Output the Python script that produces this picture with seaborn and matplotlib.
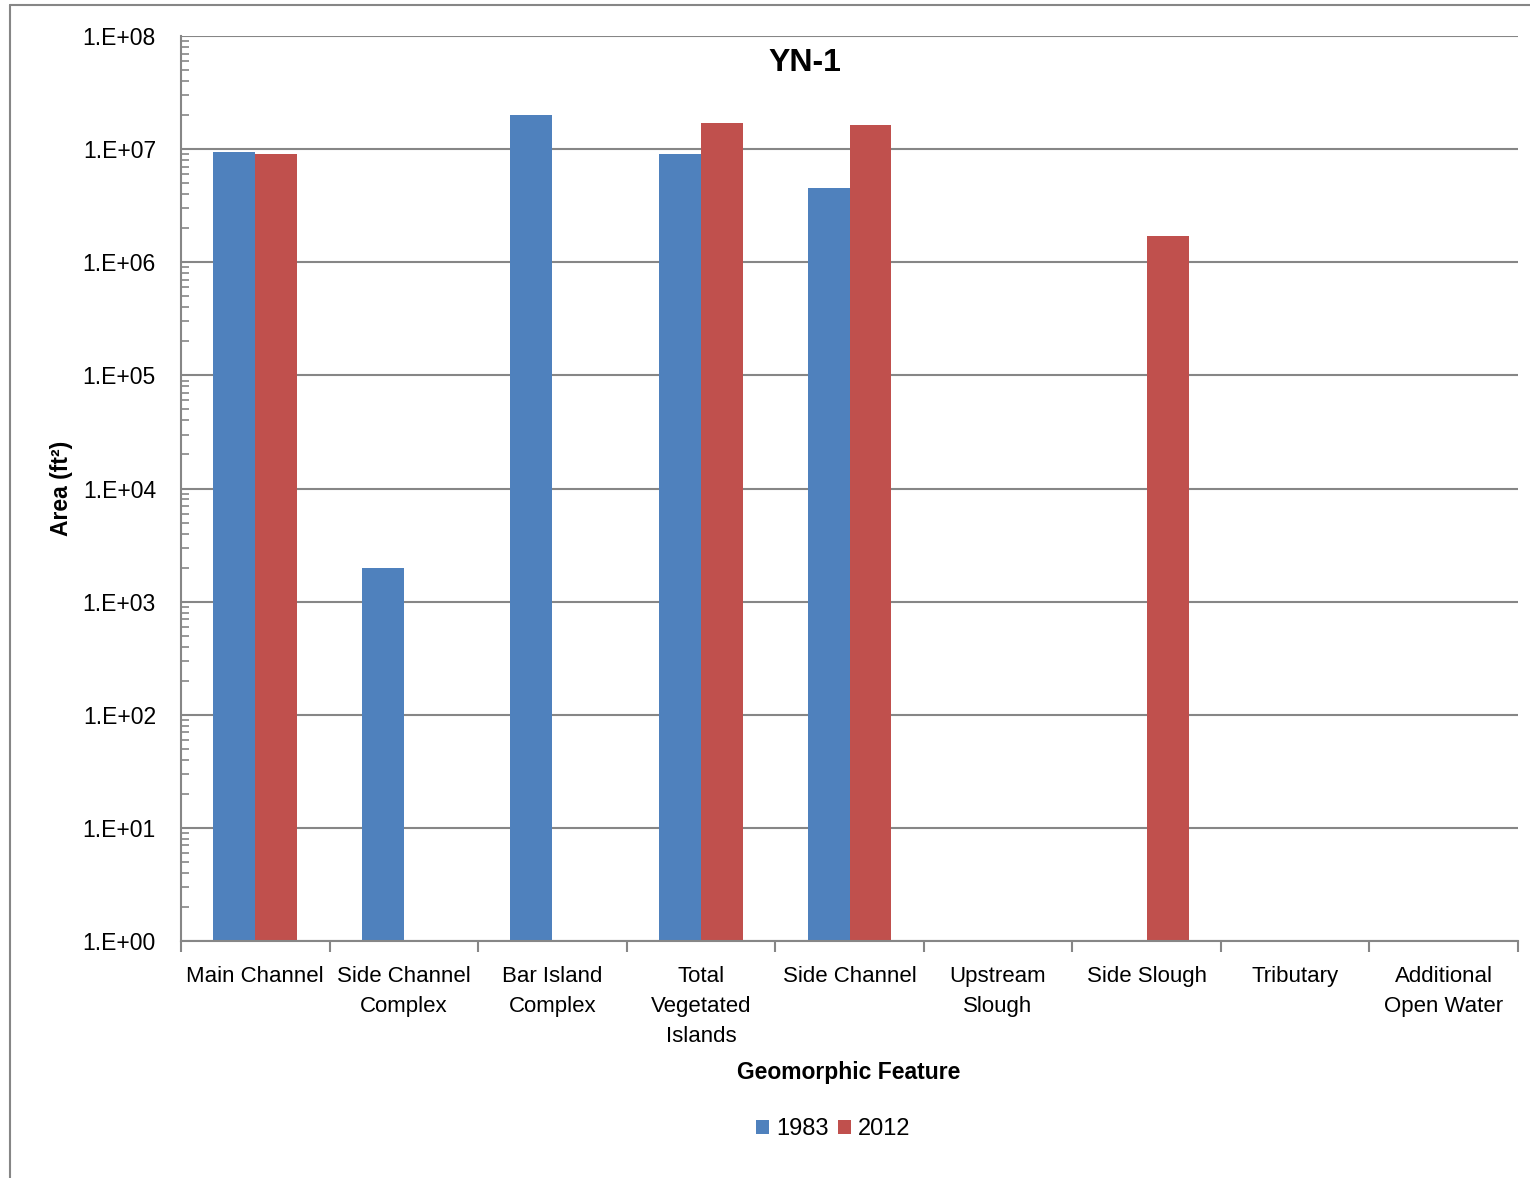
import numpy as np
import pandas as pd
import matplotlib
matplotlib.use("Agg")
import matplotlib.pyplot as plt
import seaborn as sns
from matplotlib.ticker import LogLocator, FixedFormatter, FixedLocator, NullFormatter
from matplotlib.lines import Line2D
from matplotlib.patches import Patch

categories = ["Main Channel", "Side Channel\nComplex", "Bar Island\nComplex",
              "Total\nVegetated\nIslands", "Side Channel", "Upstream\nSlough",
              "Side Slough", "Tributary", "Additional\nOpen Water"]
area_1983 = [9.4e6, 2.0e3, 2.0e7, 9.0e6, 4.5e6, np.nan, np.nan, np.nan, np.nan]
area_2012 = [9.0e6, np.nan, np.nan, 1.7e7, 1.63e7, np.nan, 1.7e6, np.nan, np.nan]
years = ["1983", "2012"]
ytick_labels = ["1.E+00", "1.E+01", "1.E+02", "1.E+03", "1.E+04", "1.E+05",
                "1.E+06", "1.E+07", "1.E+08"]

df = pd.DataFrame({
    "Feature": categories * 2,
    "Year": [years[0]] * len(categories) + [years[1]] * len(categories),
    "Area": area_1983 + area_2012,
})

sns.set_theme(style="white")
FAM = ['Liberation Sans', 'DejaVu Sans']
plt.rcParams['font.family'] = FAM
plt.rcParams['text.color'] = 'black'
plt.rcParams['axes.labelcolor'] = 'black'

colors = {"1983": "#4F81BD", "2012": "#C0504D"}
grey = "#868686"

fig = plt.figure(figsize=(15.3, 11.78), dpi=100)
ax = fig.add_axes([181/1530, 1-941/1178, (1518-181)/1530, (941-36)/1178])

sns.barplot(data=df, x="Feature", y="Area", hue="Year", palette=colors,
            width=0.565, dodge=True, ax=ax, legend=False, saturation=1,
            edgecolor="none", linewidth=0, errorbar=None)
ax.set_yscale("log")
ax.set_ylim(1, 1e8)
ax.set_xlim(-0.5, len(categories) - 0.5)

# y axis ticks
ax.yaxis.set_major_locator(FixedLocator([10.0**i for i in range(9)]))
ax.yaxis.set_major_formatter(FixedFormatter(ytick_labels))
ax.yaxis.set_minor_locator(LogLocator(base=10, subs=np.arange(2, 10)))
ax.yaxis.set_minor_formatter(NullFormatter())
ax.tick_params(axis="y", which="major", direction="out", length=8, width=1.5,
               color=grey, labelsize=16.5, pad=10, labelcolor="black")
ax.tick_params(axis="y", which="minor", direction="in", length=6, width=1.2,
               color=grey, left=True)
ax.yaxis.grid(True, which="major", color=grey, linewidth=1.5)
ax.set_axisbelow(True)

# x axis ticks at category boundaries
ax.set_xticks(np.arange(len(categories)))
ax.set_xticklabels(categories, fontsize=16, linespacing=1.55)
ax.tick_params(axis="x", which="major", length=0, pad=18, labelcolor="black")
ax.set_xticks(np.arange(-0.5, len(categories)), minor=True)
ax.tick_params(axis="x", which="minor", direction="out", length=8, width=1.5,
               color=grey, bottom=True)

for side in ["top", "right"]:
    ax.spines[side].set_visible(False)
for side in ["left", "bottom"]:
    ax.spines[side].set_color(grey)
    ax.spines[side].set_linewidth(1.5)

ax.set_xlabel("Geomorphic Feature", fontsize=16.5, fontweight="bold", family=FAM,
              color="black")
ax.set_ylabel("Area (ft²)", fontsize=16.5, fontweight="bold", family=FAM,
              color="black")
ax.xaxis.set_label_coords((849-181)/(1518-181), (941-1061)/(941-36))
ax.yaxis.set_label_coords((73-181)/(1518-181), (941-488)/(941-36))

ax.text((805-181)/(1518-181), (941-63)/(941-36), "YN-1", transform=ax.transAxes,
        ha="center", va="center", fontsize=23, fontweight="bold", color="black")

handles = [Patch(facecolor=colors[y], edgecolor="none", label=y) for y in years]
fig.legend(handles=handles, loc="center", bbox_to_anchor=(833/1530, 1-1129/1178),
           ncol=2, frameon=False, fontsize=17, handlelength=0.55, handleheight=0.55,
           handletextpad=0.3, columnspacing=0.4)

# outer frame (partial, like the source)
fig.add_artist(Line2D([10/1530, 10/1530], [0, 1-5/1178], color=grey, lw=1.5,
                      transform=fig.transFigure))
fig.add_artist(Line2D([10/1530, 1], [1-5/1178, 1-5/1178], color=grey, lw=1.5,
                      transform=fig.transFigure))

fig.savefig("out.png", dpi=100)
